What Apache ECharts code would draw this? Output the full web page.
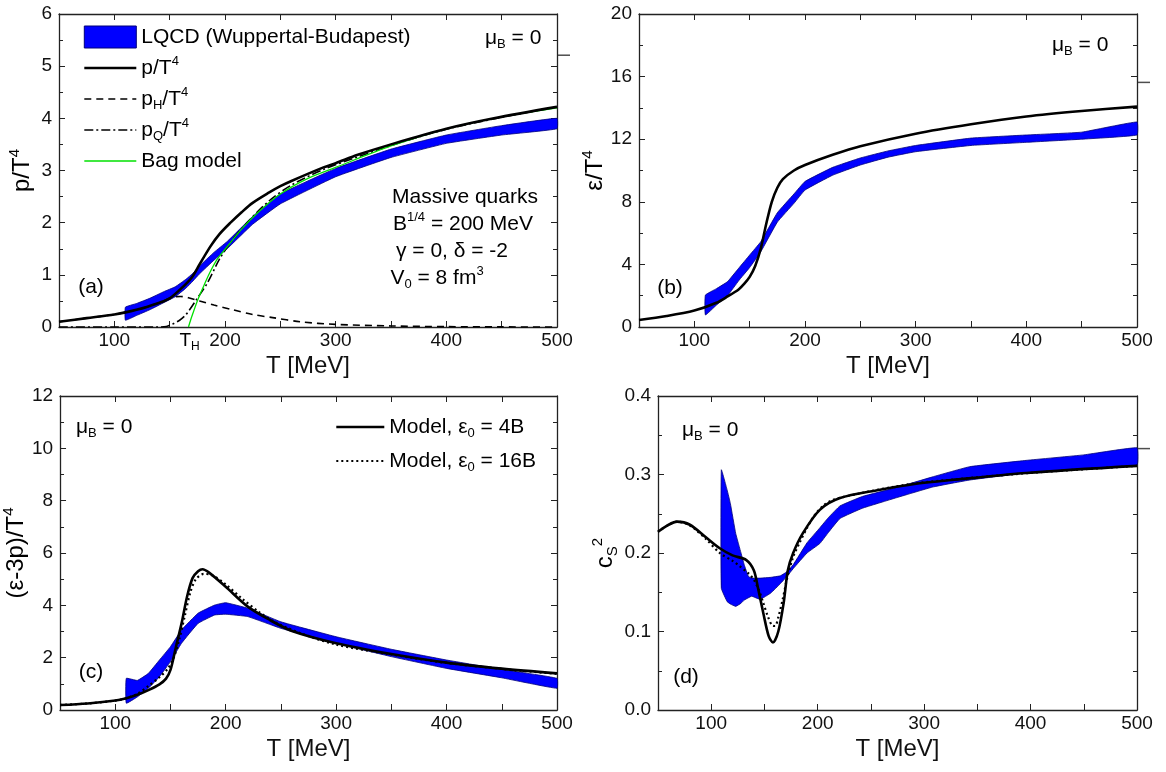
<!DOCTYPE html>
<html>
<head>
<meta charset="utf-8">
<script src="https://cdn.jsdelivr.net/npm/echarts@6/dist/echarts.min.js"></script>
<style>
  html, body { margin: 0; padding: 0; background: #fff; }
  #chart { width: 1166px; height: 772px; }
</style>
</head>
<body>
<div id="chart"></div>
<script>
// ---- data ----
const LQCD = 'LQCD (Wuppertal-Budapest)';
const M4 = 'Model, ε0 = 4B';
const M16 = 'Model, ε0 = 16B';

// (a) pressure
const pT = [50, 75, 100, 110, 120, 130, 140, 150, 160, 170, 177, 187, 195, 205, 215, 225, 240, 250, 260, 289, 300, 320, 353, 400, 443, 500];
const pModel = [0.1, 0.17, 0.24, 0.28, 0.33, 0.39, 0.46, 0.55, 0.73, 0.95, 1.2, 1.55, 1.78, 2.0, 2.2, 2.38, 2.58, 2.7, 2.8, 3.06, 3.14, 3.3, 3.52, 3.8, 4.0, 4.22];
const pHT = [50, 75, 100, 110, 120, 130, 140, 150, 155, 160, 167, 177, 190, 207, 225, 243, 268, 300, 350, 400, 450, 500];
const pH = [0.1, 0.17, 0.24, 0.28, 0.33, 0.39, 0.46, 0.55, 0.58, 0.585, 0.56, 0.5, 0.42, 0.33, 0.24, 0.18, 0.1, 0.05, 0.02, 0.007, 0.002, 0];
const pQT = [50, 100, 140, 147, 152, 159, 164, 168, 174, 184, 195, 205, 220, 240, 260, 289, 320, 353, 400, 443, 500];
const pQ = [0, 0, 0, 0.01, 0.05, 0.13, 0.22, 0.33, 0.52, 0.84, 1.3, 1.62, 2.0, 2.42, 2.72, 3.02, 3.26, 3.5, 3.79, 3.99, 4.22];
const bagT = [167, 170, 175, 180, 186, 193, 202, 216, 230, 250, 275, 300, 350, 400, 450, 500];
const bag = [0, 0.2, 0.5, 0.75, 1.03, 1.3, 1.54, 1.9, 2.2, 2.55, 2.85, 3.06, 3.47, 3.8, 4.03, 4.2];
const latPT = [110, 120, 132, 145, 155, 165, 171, 177, 190, 202, 225, 250, 300, 350, 400, 450, 500];
const latPLo = [0.13, 0.22, 0.33, 0.47, 0.58, 0.75, 0.88, 1.02, 1.28, 1.5, 1.97, 2.36, 2.88, 3.25, 3.52, 3.68, 3.8];
const latPHi = [0.38, 0.45, 0.55, 0.68, 0.77, 0.92, 1.03, 1.17, 1.43, 1.64, 2.12, 2.55, 3.04, 3.41, 3.68, 3.86, 4.0];

// (b) energy density
const eT = [50, 75, 100, 120, 130, 140, 145, 150, 155, 160, 165, 170, 175, 180, 190, 200, 225, 250, 300, 350, 400, 450, 500];
const eModel = [0.45, 0.7, 1.05, 1.55, 1.95, 2.4, 2.75, 3.2, 3.9, 5.0, 6.6, 8.0, 8.9, 9.45, 10.0, 10.35, 11.0, 11.55, 12.35, 12.95, 13.45, 13.8, 14.08];
const latET = [110, 120, 130, 140, 150, 160, 175, 190, 200, 225, 250, 275, 300, 350, 400, 450, 500];
const latELo = [0.77, 1.4, 2.0, 2.95, 3.8, 4.8, 6.7, 7.9, 8.75, 9.7, 10.35, 10.85, 11.2, 11.6, 11.8, 12.0, 12.27];
const latEHi = [2.04, 2.45, 2.9, 3.75, 4.6, 5.45, 7.3, 8.5, 9.3, 10.2, 10.8, 11.25, 11.6, 12.07, 12.27, 12.45, 13.1];

// (c) trace anomaly
const iT = [50, 75, 100, 110, 120, 130, 140, 146, 150, 155, 160, 165, 170, 175, 179, 185, 200, 220, 240, 260, 300, 350, 400, 450, 500];
const iModel4 = [0.19, 0.25, 0.36, 0.45, 0.58, 0.76, 0.98, 1.2, 1.53, 2.42, 3.3, 4.33, 5.04, 5.3, 5.38, 5.25, 4.71, 3.95, 3.44, 3.02, 2.55, 2.14, 1.81, 1.58, 1.4];
const i16T = [50, 75, 100, 110, 120, 130, 140, 148, 153, 158, 163, 168, 173, 180, 188, 200, 215, 230, 245, 270, 300, 350, 400, 450, 500];
const iModel16 = [0.19, 0.25, 0.36, 0.45, 0.62, 0.92, 1.25, 1.6, 2.0, 2.7, 3.6, 4.5, 5.0, 5.2, 5.15, 4.8, 4.25, 3.75, 3.35, 2.9, 2.5, 2.12, 1.8, 1.57, 1.38];
const latIT = [110, 120, 130, 140, 150, 160, 175, 190, 200, 220, 250, 300, 350, 400, 450, 500];
const latILo = [0.26, 0.5, 0.83, 1.27, 1.85, 2.55, 3.31, 3.63, 3.66, 3.57, 3.12, 2.55, 2.04, 1.59, 1.23, 0.83];
const latIHi = [1.21, 1.13, 1.4, 1.91, 2.42, 3.06, 3.7, 4.01, 4.1, 3.89, 3.37, 2.8, 2.32, 1.91, 1.55, 1.21];

// (d) speed of sound squared
const cT = [50, 60, 68, 80, 95, 108, 120, 133, 140, 144, 149, 154, 158, 163, 168, 172, 177, 186, 202, 221, 256, 291, 326, 396, 500];
const cModel4 = [0.227, 0.236, 0.24, 0.236, 0.22, 0.206, 0.197, 0.191, 0.178, 0.155, 0.123, 0.094, 0.086, 0.1, 0.136, 0.178, 0.2, 0.225, 0.255, 0.27, 0.28, 0.288, 0.293, 0.302, 0.311];
const c16T = [50, 68, 80, 95, 108, 120, 127, 135, 140, 145, 149, 153, 157, 160, 163, 167, 171, 177, 183, 190, 196, 205, 215, 240, 270, 300, 400, 500];
const cModel16 = [0.227, 0.24, 0.235, 0.218, 0.2, 0.19, 0.183, 0.174, 0.166, 0.152, 0.136, 0.12, 0.108, 0.107, 0.118, 0.14, 0.166, 0.195, 0.213, 0.232, 0.246, 0.26, 0.268, 0.276, 0.284, 0.29, 0.302, 0.311];
const latCT = [109.5, 115, 118, 123, 128, 131, 135, 138, 146, 156, 165, 171, 177, 190, 202, 210, 221, 242, 273, 308, 343, 396, 450, 500];
const latCLo = [0.155, 0.138, 0.135, 0.132, 0.136, 0.14, 0.143, 0.145, 0.141, 0.149, 0.161, 0.17, 0.18, 0.2, 0.212, 0.226, 0.244, 0.257, 0.27, 0.284, 0.293, 0.302, 0.307, 0.312];
const latCHi = [0.306, 0.28, 0.263, 0.225, 0.2, 0.185, 0.17, 0.168, 0.168, 0.169, 0.171, 0.176, 0.185, 0.213, 0.232, 0.245, 0.26, 0.272, 0.283, 0.297, 0.31, 0.318, 0.325, 0.334];

// Stefan-Boltzmann marks at the right edge: p/T^4, e/T^4, cs^2
const sbLimits = [5.21, 15.63, 0.333];

// axis ticks
const xLabelsA = [100, 168, 200, 300, 400, 500];
const xLabels = [100, 200, 300, 400, 500];

// ---- chart ----
const F = 'Liberation Sans, Arial, sans-serif';
const chart = echarts.init(document.getElementById('chart'));

function mkRich(size, small, lh) {
    return {
        n: { fontSize: size, fontFamily: F, color: '#000', fill: '#000', lineHeight: lh },
        sup: { fontSize: small, fontFamily: F, color: '#000', fill: '#000', verticalAlign: 'top', lineHeight: lh },
        sub: { fontSize: small, fontFamily: F, color: '#000', fill: '#000', verticalAlign: 'bottom', lineHeight: lh }
    };
}
const richText = mkRich(21, 13, 26);
const richName = mkRich(24, 15, 30);
const richTick = mkRich(19, 12, 24);

function zip(t, v) { return t.map((x, i) => [x, v[i]]); }

function line(name, t, v, gi, style, z) {
    return {
        type: 'line', name: name, xAxisIndex: 2 * gi, yAxisIndex: 2 * gi,
        data: zip(t, v), symbol: 'none', smooth: 0.3, lineStyle: style,
        itemStyle: { color: style.color },
        z: z || 3, silent: true, animation: false
    };
}

function band(t, lo, hi, gi) {
    const pts = t.map((x, i) => [x, lo[i], hi[i]]);
    return {
        type: 'custom', name: LQCD, xAxisIndex: 2 * gi, yAxisIndex: 2 * gi,
        data: pts, encode: { x: 0, y: [1, 2] },
        itemStyle: { color: '#0000ff' }, z: 2, silent: true, animation: false,
        renderItem: function (params, api) {
            if (params.dataIndex !== 0) return null;
            const up = pts.map(p => api.coord([p[0], p[2]]));
            const dn = pts.slice().reverse().map(p => api.coord([p[0], p[1]]));
            return {
                type: 'polygon', shape: { points: up.concat(dn), smooth: 0.1 },
                style: { fill: '#0000ff', stroke: '#00007a', lineWidth: 0.8 }
            };
        }
    };
}

function sbMark(value, gi) {
    return {
        type: 'scatter', xAxisIndex: 2 * gi, yAxisIndex: 2 * gi,
        data: [[500, value]], symbol: 'rect', symbolSize: [12, 1.5], symbolOffset: [7, 0],
        clip: false, itemStyle: { color: '#222' }, silent: true
    };
}

const axisLine = { show: true, onZero: false, lineStyle: { color: '#222', width: 1.3 } };

function xAxes(gi, labels) {
    return [{
        type: 'value', gridIndex: gi, min: 50, max: 500, interval: 50, position: 'bottom',
        axisLine: axisLine,
        axisTick: { inside: true, length: 6, lineStyle: { color: '#222' } },
        axisLabel: {
            customValues: labels, margin: 2, fontSize: 19, lineHeight: 24, fontFamily: F, color: '#111',
            formatter: v => (v === 168 ? '{n|T}{sub|H}' : String(v)), rich: richTick
        },
        splitLine: { show: false },
        name: 'T [MeV]', nameLocation: 'middle', nameGap: 27,
        nameTextStyle: { fontSize: 24, fontFamily: F, color: '#111' }
    }, {
        type: 'value', gridIndex: gi, min: 50, max: 500, interval: 50, position: 'top',
        axisLine: axisLine,
        axisTick: { inside: true, length: 6, lineStyle: { color: '#222' } },
        axisLabel: { show: false }, splitLine: { show: false }
    }];
}

function yAxes(gi, max, interval, fmt, name, gap) {
    const base = {
        type: 'value', gridIndex: gi, min: 0, max: max, interval: interval,
        axisLine: axisLine,
        axisTick: { inside: true, length: 6, lineStyle: { color: '#222' } },
        minorTick: { show: true, splitNumber: 2, length: 4, lineStyle: { color: '#222' } },
        splitLine: { show: false }, minorSplitLine: { show: false }
    };
    return [Object.assign({}, base, {
        position: 'left',
        axisLabel: { fontSize: 19, fontFamily: F, color: '#111', margin: 7, formatter: fmt },
        name: name, nameLocation: 'middle', nameGap: gap,
        nameTextStyle: { fontSize: 24, fontFamily: F, color: '#111', rich: richName }
    }), Object.assign({}, base, {
        position: 'right', axisLabel: { show: false }
    })];
}

function txt(x, y, text, align) {
    return {
        type: 'text', x: x, y: y, silent: true,
        style: {
            text: text, rich: richText, fontSize: 21, fontFamily: F, fill: '#000',
            align: align || 'left', verticalAlign: 'middle'
        }
    };
}

const legendNames = {};
legendNames[LQCD] = '{n|' + LQCD + '}';
legendNames['p/T4'] = '{n|p/T}{sup|4}';
legendNames['pH/T4'] = '{n|p}{sub|H}{n|/T}{sup|4}';
legendNames['pQ/T4'] = '{n|p}{sub|Q}{n|/T}{sup|4}';
legendNames['Bag model'] = '{n|Bag model}';
legendNames[M4] = '{n|Model, ε}{sub|0}{n| = 4B}';
legendNames[M16] = '{n|Model, ε}{sub|0}{n| = 16B}';

const solid = { color: '#000', width: 2.6 };
const dotted = { color: '#000', width: 2.2, type: [2, 3] };
const muB = '{n|μ}{sub|B}{n| = 0}';

const legendText = { fontSize: 21, fontFamily: F, color: '#000', lineHeight: 26, rich: richText };

const option = {
    animation: false,
    backgroundColor: '#fff',
    grid: [
        { left: 59, top: 14, width: 498, height: 313 },
        { left: 639, top: 14, width: 498, height: 313 },
        { left: 59, top: 396, width: 498, height: 314 },
        { left: 658, top: 396, width: 479, height: 314 }
    ],
    xAxis: [].concat(xAxes(0, xLabelsA), xAxes(1, xLabels), xAxes(2, xLabels), xAxes(3, xLabels)),
    yAxis: [].concat(
        yAxes(0, 6, 1, v => String(v), '{n|p/T}{sup|4}', 22),
        yAxes(1, 20, 4, v => String(v), '{n|ε/T}{sup|4}', 18),
        yAxes(2, 12, 2, v => String(v), '{n|(ε-3p)/T}{sup|4}', 22),
        yAxes(3, 0.4, 0.1, v => v.toFixed(1), '{n|c}{sub|S}{sup|2}', 33)
    ),
    legend: [{
        orient: 'vertical', left: 78, top: 19, itemWidth: 52, itemHeight: 22, itemGap: 5,
        selectedMode: false,
        itemStyle: { opacity: 0 },
        data: [
            { name: LQCD, icon: 'rect', itemStyle: { color: '#0000ff', borderColor: '#00007a', borderWidth: 1, opacity: 1 } },
            { name: 'p/T4', lineStyle: { width: 2.6 } },
            { name: 'pH/T4', lineStyle: { width: 1.6 } },
            { name: 'pQ/T4', lineStyle: { width: 1.6 } },
            { name: 'Bag model', lineStyle: { width: 1.3 } }
        ],
        formatter: n => legendNames[n],
        textStyle: legendText
    }, {
        orient: 'vertical', left: 330, top: 409, itemWidth: 48, itemHeight: 22, itemGap: 8,
        selectedMode: false,
        itemStyle: { opacity: 0 },
        data: [
            { name: M4, lineStyle: { width: 2.6 } },
            { name: M16, lineStyle: { width: 2.2 } }
        ],
        formatter: n => legendNames[n],
        textStyle: legendText
    }],
    graphic: [
        txt(485, 38, muB),
        txt(91, 287, '(a)', 'center'),
        txt(465, 197, 'Massive quarks', 'center'),
        txt(463, 224, '{n|B}{sup|1/4}{n| = 200 MeV}', 'center'),
        txt(452, 251, 'γ = 0, δ = -2', 'center'),
        txt(437, 278, '{n|V}{sub|0}{n| = 8 fm}{sup|3}', 'center'),
        txt(1052, 45, muB),
        txt(670, 288, '(b)', 'center'),
        txt(76, 427, muB),
        txt(91, 672, '(c)', 'center'),
        txt(682, 430, muB),
        txt(686, 677, '(d)', 'center')
    ],
    series: [
        // (a)
        band(latPT, latPLo, latPHi, 0),
        line('pH/T4', pHT, pH, 0, { color: '#000', width: 1.6, type: [7, 5] }, 3),
        line('pQ/T4', pQT, pQ, 0, { color: '#000', width: 1.6, type: [9, 3, 2, 3] }, 3),
        line('Bag model', bagT, bag, 0, { color: '#00e000', width: 1.3 }, 4),
        line('p/T4', pT, pModel, 0, solid, 5),
        sbMark(sbLimits[0], 0),
        // (b)
        band(latET, latELo, latEHi, 1),
        line('e/T4', eT, eModel, 1, solid, 5),
        sbMark(sbLimits[1], 1),
        // (c)
        band(latIT, latILo, latIHi, 2),
        line(M16, i16T, iModel16, 2, dotted, 4),
        line(M4, iT, iModel4, 2, solid, 5),
        // (d)
        band(latCT, latCLo, latCHi, 3),
        line(M16, c16T, cModel16, 3, dotted, 4),
        line(M4, cT, cModel4, 3, solid, 5),
        sbMark(sbLimits[2], 3)
    ]
};

chart.setOption(option);
window.addEventListener('resize', function () { chart.resize(); });
</script>
</body>
</html>
